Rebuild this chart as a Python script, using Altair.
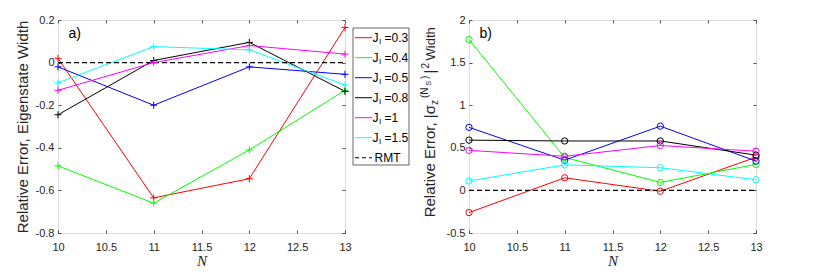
import altair as alt
import pandas as pd

# ---------------- data ----------------
N_VALUES = [10, 11, 12, 13]
J_LABELS = ["0.3", "0.4", "0.5", "0.8", "1", "1.5"]
J_COLORS = ["#ff0000", "#00ff00", "#0000ff", "#000000", "#ff00ff", "#00ffff"]

# panel a) relative error, eigenstate width
A_J03 = [0.02, -0.635, -0.545, 0.165]
A_J04 = [-0.485, -0.66, -0.41, -0.13]
A_J05 = [-0.02, -0.20, -0.02, -0.055]
A_J08 = [-0.245, 0.01, 0.095, -0.135]
A_J10 = [-0.13, 0.0, 0.08, 0.04]
A_J15 = [-0.095, 0.075, 0.06, -0.105]

# panel b) relative error, |sigma_z|^2 width
B_J03 = [-0.26, 0.148, -0.01, 0.39]
B_J04 = [1.77, 0.387, 0.094, 0.305]
B_J05 = [0.74, 0.355, 0.754, 0.344]
B_J08 = [0.59, 0.58, 0.58, 0.414]
B_J10 = [0.47, 0.40, 0.527, 0.46]
B_J15 = [0.11, 0.30, 0.266, 0.125]

RMT_N = [10, 13]
RMT_V = [0, 0]

X_TICKS = [10, 10.5, 11, 11.5, 12, 12.5, 13]
A_Y_TICKS = [-0.8, -0.6, -0.4, -0.2, 0, 0.2]
B_Y_TICKS = [-0.5, 0, 0.5, 1, 1.5, 2]
A_Y_DOMAIN = [-0.8, 0.2]
B_Y_DOMAIN = [-0.5, 2]

LEGEND_KEYS = J_LABELS + ["RMT"]

# ---------------- style ----------------
W, H = 287, 213
FONT = "Liberation Sans"
AX = "#262626"
PLUS = "M-1,0L1,0M0,-1L0,1"


def long_df(series):
    rows = []
    for lab, vals in zip(J_LABELS, series):
        for n, v in zip(N_VALUES, vals):
            rows.append({"N": n, "v": v, "J": lab})
    return pd.DataFrame(rows)


df_a = long_df([A_J03, A_J04, A_J05, A_J08, A_J10, A_J15])
df_b = long_df([B_J03, B_J04, B_J05, B_J08, B_J10, B_J15])
df_rmt = pd.DataFrame({"N": RMT_N, "v": RMT_V})
one = pd.DataFrame({"k": [0]})

color = alt.Color("J:N", scale=alt.Scale(domain=J_LABELS, range=J_COLORS), legend=None)


def panel(df, yticks, ydomain, shape, size, ytitle, ytitle_x, tag, extra_texts):
    xscale = alt.Scale(domain=[10, 13], nice=False, zero=False)
    yscale = alt.Scale(domain=ydomain, nice=False, zero=False)
    x_main = alt.X(
        "N:Q", scale=xscale,
        axis=alt.Axis(
            values=X_TICKS, orient="bottom", offset=-3, tickSize=3, domain=False, grid=False,
            labelExpr="'' + datum.value", labelFont=FONT, labelFontSize=11, labelColor=AX,
            labelPadding=8, labelFlush=False, labelOverlap=False, tickColor=AX, tickWidth=0.8,
            title="N", titleFont="Liberation Serif", titleFontStyle="italic",
            titleFontWeight="normal", titleFontSize=15, titleColor=AX,
            titleY=35, titleBaseline="alphabetic",
        ),
    )
    y_axis_kw = dict(
        values=yticks, orient="left", offset=-3, tickSize=3, domain=False, grid=False,
        labelExpr="'' + datum.value", labelFont=FONT, labelFontSize=11, labelColor=AX,
        labelPadding=4, labelFlush=False, labelOverlap=False, tickColor=AX, tickWidth=0.8,
    )
    if ytitle:
        y_axis_kw.update(
            title=ytitle, titleFont=FONT, titleFontSize=15, titleFontWeight="normal",
            titleColor=AX, titleX=ytitle_x, titleBaseline="alphabetic",
        )
    else:
        y_axis_kw.update(title=None)
    y_main = alt.Y("v:Q", scale=yscale, axis=alt.Axis(**y_axis_kw))

    lines = alt.Chart(df).mark_line(strokeWidth=1).encode(x=x_main, y=y_main, color=color)
    rmt = alt.Chart(df_rmt).mark_line(color="black", strokeDash=[5, 3], strokeWidth=1.1).encode(
        x=x_main, y=y_main
    )
    pts = alt.Chart(df).mark_point(shape=shape, filled=False, size=size, strokeWidth=1, opacity=1).encode(
        x=x_main, y=y_main, color=color
    )
    label = alt.Chart(one).mark_text(
        text=tag, font=FONT, fontSize=14, align="left", baseline="alphabetic", color="black"
    ).encode(x=alt.value(10.5), y=alt.value(18))

    inner = alt.layer(lines, rmt, pts, label, *extra_texts)

    ticks = alt.Chart(df).mark_point(opacity=0).encode(
        x=alt.X("N:Q", scale=xscale, axis=alt.Axis(
            values=X_TICKS, orient="top", offset=-3, tickSize=3, labels=False, domain=False,
            grid=False, title=None, tickColor=AX, tickWidth=0.8)),
        y=alt.Y("v:Q", scale=yscale, axis=alt.Axis(
            values=yticks, orient="right", offset=-3, tickSize=3, labels=False, domain=False,
            grid=False, title=None, tickColor=AX, tickWidth=0.8)),
    )
    return alt.layer(inner, ticks).resolve_axis(x="independent", y="independent").properties(
        width=W, height=H
    )


def vtext(txt, x, y, size, align="left"):
    return alt.Chart(one).mark_text(
        text=txt, font=FONT, fontSize=size, angle=270, align=align,
        baseline="alphabetic", color=AX,
    ).encode(x=alt.value(x), y=alt.value(y))


# y-title of panel b: Relative Error, |sigma_z^(N_S)|^2 Width
b_title = [
    vtext("Relative Error, |σ", -34.2, 85, 15, align="right"),
    vtext("z", -31.0, 85, 10),
    vtext("(N", -41.5, 78, 10),
    vtext("S", -38.5, 65.5, 7),
    vtext(")", -41.5, 59, 10),
    vtext("|", -34.2, 53.5, 15),
    vtext("2", -40.5, 48.5, 10),
    vtext("Width", -34.2, 40.5, 13),
]

panel_a = panel(df_a, A_Y_TICKS, A_Y_DOMAIN, PLUS, 49,
                "Relative Error, Eigenstate Width", -33.7, "a)", [])
panel_b = panel(df_b, B_Y_TICKS, B_Y_DOMAIN, "circle", 40, None, 0, "b)", b_title)

# ---------------- legend ----------------
leg_df = pd.DataFrame({
    "key": LEGEND_KEYS,
    "J": J_LABELS + ["RMT"],
    "eq": ["=" + j for j in J_LABELS] + [""],
})
leg_series = leg_df[leg_df["key"] != "RMT"]
leg_rmt = leg_df[leg_df["key"] == "RMT"]
ly = alt.Y("key:N", sort=LEGEND_KEYS,
           scale=alt.Scale(type="point", domain=LEGEND_KEYS, range=[17.7, 137.7], padding=0),
           axis=None)

box = alt.Chart(one).mark_rect(fill="white", stroke=AX, strokeWidth=0.7).encode(
    x=alt.value(0), x2=alt.value(56), y=alt.value(8), y2=alt.value(145)
)
samples = alt.Chart(leg_series).mark_rule(strokeWidth=1).encode(
    x=alt.value(2), x2=alt.value(19), y=ly, color=color
)
rmt_sample = alt.Chart(leg_rmt).mark_rule(strokeWidth=1.1, strokeDash=[4, 3], color="black").encode(
    x=alt.value(2), x2=alt.value(19), y=ly
)
j_txt = alt.Chart(leg_series).mark_text(
    text="J", font=FONT, fontSize=12, align="left", baseline="middle", color="black"
).encode(x=alt.value(19.5), y=ly)
sub_txt = alt.Chart(leg_series).mark_text(
    text="I", font=FONT, fontSize=8, align="left", baseline="middle", dy=4, color="black"
).encode(x=alt.value(26), y=ly)
eq_txt = alt.Chart(leg_series).mark_text(
    font=FONT, fontSize=12, align="left", baseline="middle", color="black"
).encode(x=alt.value(31.5), y=ly, text="eq:N")
rmt_txt = alt.Chart(leg_rmt).mark_text(
    font=FONT, fontSize=12, align="left", baseline="middle", color="black"
).encode(x=alt.value(21.5), y=ly, text="J:N")

legend = alt.layer(box, samples, rmt_sample, j_txt, sub_txt, eq_txt, rmt_txt).properties(
    width=108, height=H, view=alt.ViewBackground(stroke="transparent")
)

chart = alt.hconcat(panel_a, legend, panel_b, spacing=8, bounds="flush").properties(
    padding={"left": 6, "top": 5, "right": 5, "bottom": 5}
).configure_view(stroke=AX, strokeWidth=0.8).configure(font=FONT)

chart.save("out.html", embed_options={"renderer": "svg", "actions": False})
